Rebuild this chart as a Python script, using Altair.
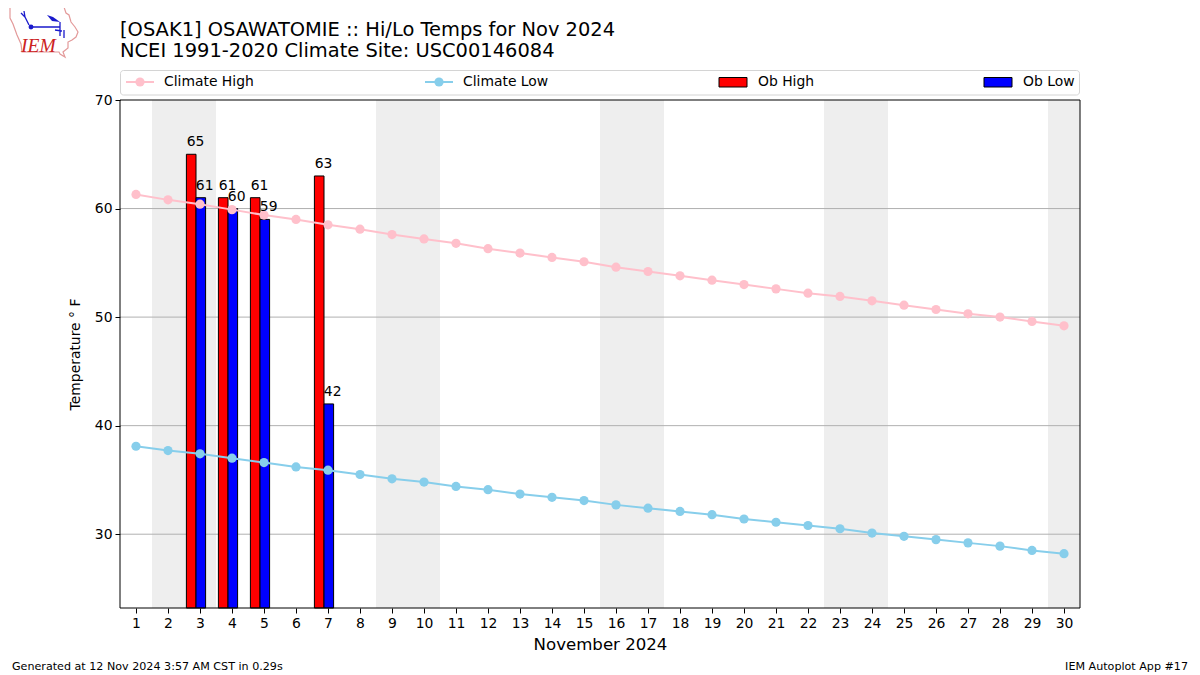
import altair as alt
import pandas as pd

days = list(range(1, 31))
climate_high = [61.3, 60.8, 60.4, 59.9, 59.4, 59.0, 58.5, 58.1, 57.6, 57.2, 56.8, 56.3, 55.9, 55.5, 55.1,
                54.6, 54.2, 53.8, 53.4, 53.0, 52.6, 52.2, 51.9, 51.5, 51.1, 50.7, 50.3, 50.0, 49.6, 49.2]
climate_low = [38.1, 37.7, 37.4, 37.0, 36.6, 36.2, 35.9, 35.5, 35.1, 34.8, 34.4, 34.1, 33.7, 33.4, 33.1,
               32.7, 32.4, 32.1, 31.8, 31.4, 31.1, 30.8, 30.5, 30.1, 29.8, 29.5, 29.2, 28.9, 28.5, 28.2]
ob_days = [3, 4, 5, 7]
ob_high = [65, 61, 61, 63]
ob_low = [61, 60, 59, 42]
weekend_start = [1.5, 8.5, 15.5, 22.5, 29.5]
weekend_end = [3.5, 10.5, 17.5, 24.5, 30.5]
grid_values = [30, 40, 50, 60]
y_ticks = [30, 40, 50, 60, 70]

FONT = "DejaVu Sans"
XS = alt.Scale(domain=[0.5, 30.5], nice=False, zero=False)
YS = alt.Scale(domain=[23.2, 70], nice=False, zero=False)
W, H = 960, 508
one = pd.DataFrame({"a": [0]})

X_AXIS = alt.Axis(values=days, format="d", grid=False, domain=False, labelFont=FONT, labelFontSize=13.9,
                  labelColor="black", tickColor="black", tickSize=5, labelPadding=3,
                  titleFont=FONT, titleFontSize=16.6, titleFontWeight="normal", titleColor="black",
                  titlePadding=7, labelFlush=False, labelOverlap=False, title="November 2024")
Y_AXIS = alt.Axis(values=y_ticks, format="d", grid=False, domain=False, labelFont=FONT, labelFontSize=13.9,
                  labelColor="black", tickColor="black", tickSize=5, labelPadding=3,
                  titleFont=FONT, titleFontSize=13.9, titleFontWeight="normal", titleColor="black",
                  titlePadding=12, title="Temperature ° F")


def X(field="d"):
    return alt.X(f"{field}:Q", scale=XS, axis=X_AXIS)


def Y(field):
    return alt.Y(f"{field}:Q", scale=YS, axis=Y_AXIS)


def px(v):
    return alt.value(v - 120)


def py(v):
    return alt.value(v - 100)


# weekend shading
shade = alt.Chart(pd.DataFrame({"s": weekend_start, "e": weekend_end, "lo": [23.2] * 5, "hi": [70] * 5})).mark_rect(
    color="#eeeeee").encode(x=X("s"), x2="e:Q", y=Y("hi"), y2="lo:Q")

grid = alt.Chart(pd.DataFrame({"g": grid_values})).mark_rule(color="#b0b0b0", strokeWidth=1).encode(
    y=Y("g"), x=alt.value(0), x2=alt.value(W))

obs = pd.DataFrame({"d": ob_days, "hi": ob_high, "lo": ob_low})
hi_bars = alt.Chart(obs).transform_calculate(x0="datum.d-0.425", x1="datum.d-0.125").mark_rect(
    color="#ff0000", stroke="black", strokeWidth=1).encode(
    x=X("x0"), x2="x1:Q", y=Y("hi"), y2=alt.value(H))
lo_bars = alt.Chart(obs).transform_calculate(x0="datum.d-0.125", x1="datum.d+0.175").mark_rect(
    color="#0000ff", stroke="black", strokeWidth=1).encode(
    x=X("x0"), x2="x1:Q", y=Y("lo"), y2=alt.value(H))

clim = pd.DataFrame({"d": days, "h": climate_high, "l": climate_low})


def series(field, colour):
    base = alt.Chart(clim).encode(x=X(), y=Y(field))
    return base.mark_line(color=colour, strokeWidth=2) + base.mark_point(
        filled=True, color=colour, opacity=1, size=85)


hi_text = alt.Chart(obs).transform_calculate(x0="datum.d-0.14").mark_text(
    font=FONT, fontSize=13.9, color="black", baseline="alphabetic", dy=-8).encode(
    x=X("x0"), y=Y("hi"), text=alt.Text("hi:Q"))
lo_text = alt.Chart(obs).transform_calculate(x0="datum.d+0.145").mark_text(
    font=FONT, fontSize=13.9, color="black", baseline="alphabetic", dy=-8).encode(
    x=X("x0"), y=Y("lo"), text=alt.Text("lo:Q"))

frame = alt.Chart(one).mark_rect(fillOpacity=0, fill="white", stroke="black", strokeWidth=1).encode(
    x=alt.value(0), x2=alt.value(W), y=alt.value(0), y2=alt.value(H))

# legend
legend_parts = [
    alt.Chart(one).mark_rect(fill="white", stroke="#d4d4d4", strokeWidth=1, cornerRadius=3).encode(
        x=px(120.5), x2=px(1079.5), y=py(70.5), y2=py(95))
]


def text(t, x, y, size=13.9, align="left", font=FONT, colour="black", **kw):
    return alt.Chart(one).mark_text(text=t, font=font, fontSize=size, align=align, baseline="middle",
                                    color=colour, **kw).encode(x=px(x), y=py(y))


for label, colour, x0 in [("Climate High", "pink", 126), ("Climate Low", "skyblue", 425)]:
    legend_parts.append(alt.Chart(one).mark_rule(color=colour, strokeWidth=2).encode(
        x=px(x0), x2=px(x0 + 28), y=py(82)))
    legend_parts.append(alt.Chart(one).mark_point(filled=True, color=colour, opacity=1, size=85).encode(
        x=px(x0 + 14), y=py(82)))
    legend_parts.append(text(label, x0 + 38, 82))
for label, colour, x0 in [("Ob High", "#ff0000", 719), ("Ob Low", "#0000ff", 984)]:
    legend_parts.append(alt.Chart(one).mark_rect(color=colour, stroke="black", strokeWidth=1).encode(
        x=px(x0), x2=px(x0 + 28), y=py(77.5), y2=py(87)))
    legend_parts.append(text(label, x0 + 39, 82))

# logo: symbol paths drawn in page pixels around the (0, 0) of the page
iowa = ("M10,7L64,7L66,13L69,15L71,22L75,27L78,32L76,37L72,40L68,42L68,48L63,52L65,57"
        "L60,54L59,52L22,52L21,44L17,35L13,24L10,18Z")
station = "M21,13L25,17L24,11M25,17L29,25M31,27L60,27M60,22L60,36M55,30L62,31M64,30L64,38"
flag = "M47,15L53,17L60,22L52,21Z"
logo = [
    alt.Chart(one).mark_point(shape=iowa, size=4, filled=False, stroke="#e39a9a", strokeWidth=1.2, opacity=1).encode(
        x=px(0), y=py(0)),
    alt.Chart(one).mark_point(shape=station, size=4, filled=False, stroke="#1a1acc", strokeWidth=1.3, opacity=1).encode(
        x=px(0), y=py(0)),
    alt.Chart(one).mark_point(shape=flag, size=4, filled=True, color="#1a1acc", opacity=1).encode(
        x=px(0), y=py(0)),
    alt.Chart(one).mark_point(filled=True, color="#1a1acc", opacity=1, size=24).encode(x=px(31), y=py(27)),
    text("IEM", 21, 45.5, size=19.5, font="Liberation Serif", colour="#cc2222", fontStyle="italic"),
]

footer = [
    text("Generated at 12 Nov 2024 3:57 AM CST in 0.29s", 12, 666.5, size=11.13),
    text("IEM Autoplot App #17", 1188, 666.5, size=11.13, align="right"),
]

title_lines = [
    text("[OSAK1] OSAWATOMIE :: Hi/Lo Temps for Nov 2024", 120, 29.5, size=19.45),
    text("NCEI 1991-2020 Climate Site: USC00146084", 120, 50.5, size=19.45),
]

chart = alt.layer(
    shade, grid, hi_bars, lo_bars,
    series("h", "pink"), series("l", "skyblue"),
    hi_text, lo_text, frame,
    *legend_parts, *logo, *footer, *title_lines,
).resolve_scale(x="shared", y="shared").properties(
    width=W, height=H,
    autosize=alt.AutoSizeParams(type="none"),
    padding={"left": 112, "top": 92, "right": 112, "bottom": 66},
    background="white",
).configure_view(stroke=None)

chart.save("out.html", embed_options={"renderer": "svg", "actions": False})
